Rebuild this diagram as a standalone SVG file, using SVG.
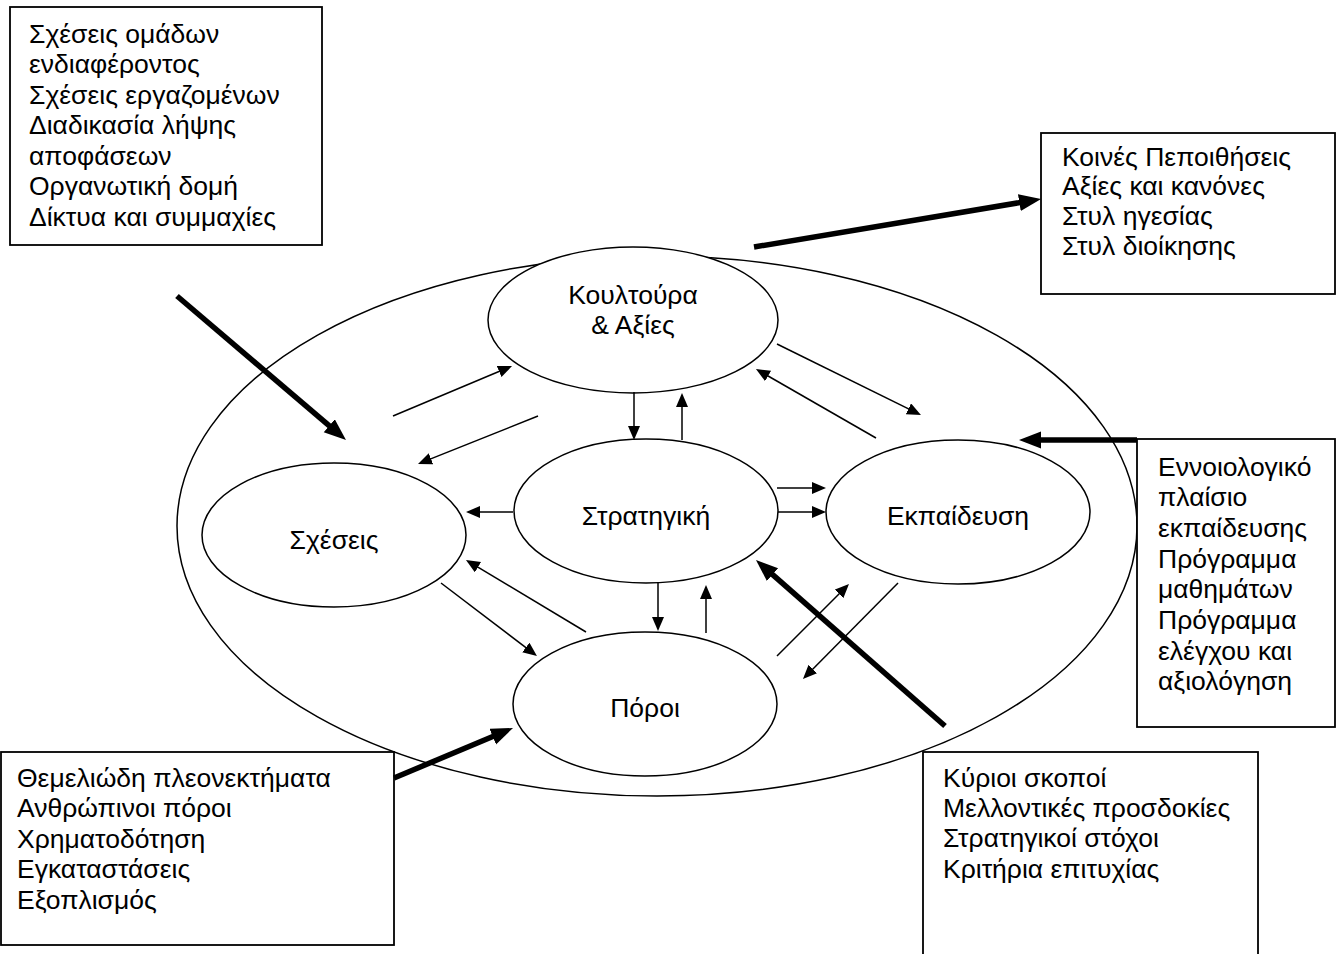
<svg xmlns="http://www.w3.org/2000/svg" width="1336" height="954" viewBox="0 0 1336 954">
<style>
.bg{fill:#ffffff}
.outer{fill:none;stroke:#000;stroke-width:1.5}
.node{fill:#ffffff;stroke:#000;stroke-width:1.5}
.box{fill:#ffffff;stroke:#000;stroke-width:1.8}
.t{font-family:"Liberation Sans","Noto Sans",Arial,sans-serif;font-size:26.5px;fill:#000}
.c{text-anchor:middle}
.thin{stroke:#000;stroke-width:1.5;fill:none;marker-end:url(#ah)}
.thick{stroke:#000;stroke-width:5.5;fill:none;marker-end:url(#ahb)}
</style>
<defs>
<marker id="ah" markerUnits="userSpaceOnUse" markerWidth="16" markerHeight="14" refX="3" refY="6" orient="auto">
<path d="M0,0 L14,6 L0,12 z" fill="#000"/>
</marker>
<marker id="ahb" markerUnits="userSpaceOnUse" markerWidth="24" markerHeight="18" refX="4" refY="8.5" orient="auto">
<path d="M0,0 L22,8.5 L0,17 z" fill="#000"/>
</marker>
</defs>
<rect class="bg" x="0" y="0" width="1336" height="954"/>
<ellipse id="outer" class="outer" cx="657" cy="526" rx="480" ry="270"/>

<g id="box-relations">
<rect class="box" x="10" y="7" width="312" height="238"/>
<text class="t" x="29" y="42.5">Σχέσεις ομάδων</text>
<text class="t" x="29" y="73">ενδιαφέροντος</text>
<text class="t" x="29" y="103.5">Σχέσεις εργαζομένων</text>
<text class="t" x="29" y="134">Διαδικασία λήψης</text>
<text class="t" x="29" y="164.5">αποφάσεων</text>
<text class="t" x="29" y="195">Οργανωτική δομή</text>
<text class="t" x="29" y="225.5">Δίκτυα και συμμαχίες</text>
</g>

<g id="box-culture">
<rect class="box" x="1041" y="133" width="294" height="161"/>
<text class="t" x="1062" y="165.5">Κοινές Πεποιθήσεις</text>
<text class="t" x="1062" y="195.2">Αξίες και κανόνες</text>
<text class="t" x="1062" y="224.9">Στυλ ηγεσίας</text>
<text class="t" x="1062" y="254.6">Στυλ διοίκησης</text>
</g>

<g id="box-training">
<rect class="box" x="1137" y="439" width="198" height="288"/>
<text class="t" x="1158" y="475.5">Εννοιολογικό</text>
<text class="t" x="1158" y="506.2">πλαίσιο</text>
<text class="t" x="1158" y="536.9">εκπαίδευσης</text>
<text class="t" x="1158" y="567.6">Πρόγραμμα</text>
<text class="t" x="1158" y="598.3">μαθημάτων</text>
<text class="t" x="1158" y="629">Πρόγραμμα</text>
<text class="t" x="1158" y="659.7">ελέγχου και</text>
<text class="t" x="1158" y="690.4">αξιολόγηση</text>
</g>

<g id="box-resources">
<rect class="box" x="1" y="752" width="393" height="193"/>
<text class="t" x="17" y="786.5">Θεμελιώδη πλεονεκτήματα</text>
<text class="t" x="17" y="817">Ανθρώπινοι πόροι</text>
<text class="t" x="17" y="847.5">Χρηματοδότηση</text>
<text class="t" x="17" y="878">Εγκαταστάσεις</text>
<text class="t" x="17" y="908.5">Εξοπλισμός</text>
</g>

<g id="box-strategy">
<rect class="box" x="923" y="752" width="335" height="210"/>
<text class="t" x="943" y="786.5">Κύριοι σκοποί</text>
<text class="t" x="943" y="816.5">Μελλοντικές προσδοκίες</text>
<text class="t" x="943" y="846.5">Στρατηγικοί στόχοι</text>
<text class="t" x="943" y="877.5">Κριτήρια επιτυχίας</text>
</g>

<g id="node-culture">
<ellipse class="node" cx="633" cy="320" rx="145" ry="73"/>
<text class="t c" x="633" y="303.5">Κουλτούρα</text>
<text class="t c" x="633" y="333.5">&amp; Αξίες</text>
</g>
<g id="node-strategy">
<ellipse class="node" cx="646" cy="511" rx="132" ry="72"/>
<text class="t c" x="646" y="524.5">Στρατηγική</text>
</g>
<g id="node-training">
<ellipse class="node" cx="958" cy="512" rx="132" ry="72"/>
<text class="t c" x="958" y="524.5">Εκπαίδευση</text>
</g>
<g id="node-relations">
<ellipse class="node" cx="334" cy="535" rx="132" ry="72"/>
<text class="t c" x="334" y="548.5">Σχέσεις</text>
</g>
<g id="node-resources">
<ellipse class="node" cx="645" cy="704" rx="132" ry="72"/>
<text class="t c" x="645" y="716.5">Πόροι</text>
</g>

<g id="connectors">
<line class="thin" x1="393" y1="416" x2="501.9" y2="370.3"/>
<line class="thin" x1="538" y1="416" x2="428.2" y2="459.9"/>
<line class="thin" x1="634" y1="392" x2="634" y2="429"/>
<line class="thin" x1="682" y1="440" x2="682" y2="404"/>
<line class="thin" x1="513" y1="512" x2="477" y2="512"/>
<line class="thin" x1="777" y1="488" x2="815" y2="488"/>
<line class="thin" x1="778" y1="512" x2="815" y2="512"/>
<line class="thin" x1="586" y1="632" x2="475.4" y2="565.7"/>
<line class="thin" x1="441" y1="583" x2="528.2" y2="649.3"/>
<line class="thin" x1="658" y1="583" x2="658" y2="620"/>
<line class="thin" x1="706" y1="633" x2="706" y2="596"/>
<line class="thin" x1="777" y1="656" x2="841.2" y2="591.8"/>
<line class="thin" x1="898" y1="583" x2="810.7" y2="671.2"/>
<line class="thin" x1="777" y1="344" x2="911.1" y2="410.1"/>
<line class="thin" x1="876" y1="438" x2="765.5" y2="374.5"/>
<line class="thick" x1="177" y1="296" x2="332.3" y2="428.3"/>
<line class="thick" x1="754" y1="247" x2="1023.3" y2="202"/>
<line class="thick" x1="1137" y1="440" x2="1037" y2="440"/>
<line class="thick" x1="394" y1="778" x2="496.4" y2="735"/>
<line class="thick" x1="945" y1="726" x2="769.5" y2="571.9"/>
</g>
</svg>
